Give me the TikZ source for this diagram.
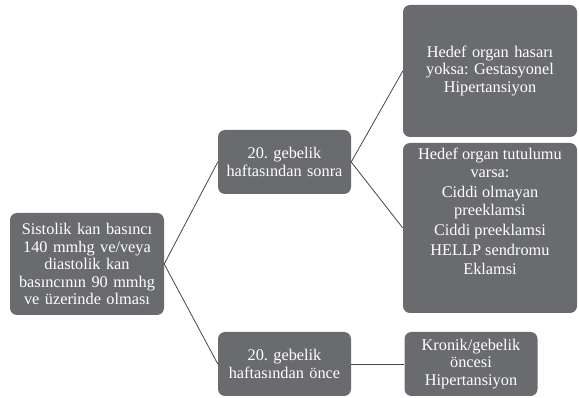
\documentclass[tikz,border=0pt]{standalone}
\usepackage{fontspec}
\setmainfont{Liberation Serif}
\frenchspacing

\definecolor{boxgray}{RGB}{106,107,111}
\definecolor{linegray}{RGB}{70,70,72}

\tikzset{
	box/.style = {rounded corners = 7pt, fill = boxgray, text = white, align = center, inner sep = 2pt,
		font = \fontsize{16.3}{17.5}\selectfont},
	link/.style = {draw = linegray, line width = 0.8pt}
}

\begin{document}
\begin{tikzpicture}[x = 1pt, y = -1pt]

	% Definitions
	
	\def\W{174}		% Width of right-hand boxes
	\def\w{133}		% Width of middle boxes
	
	\useasboundingbox (0, 0) rectangle (579, 398);
	
	% Draw boxes
	
	\node [box, text width = 150, minimum height = 102] (bp) at (87, 264)
		{Sistolik kan basıncı\\140 mmhg ve/veya\\diastolik kan\\basıncının 90 mmhg\\ve üzerinde olması};
	\node [box, text width = \w - 4, minimum height = 64] (after) at (284.5, 162)
		{20. gebelik\\haftasından sonra};
	\node [box, text width = \w - 4, minimum height = 64] (before) at (284.5, 364)
		{20. gebelik\\haftasından önce};
	\node [box, text width = \W - 4, minimum height = 132] (gest) at (490, 71)
		{Hedef organ hasarı\\yoksa: Gestasyonel\\Hipertansiyon};
	\node [box, text width = \W - 4, minimum height = 170,
		label = {[anchor = north, yshift = -2pt, text = white, align = center,
			font = \fontsize{16.3}{17.5}\selectfont]north : Hedef organ tutulumu\\varsa:\\[3pt]
			Ciddi olmayan\\preeklamsi\\[3pt]Ciddi preeklamsi\\[2pt]HELLP sendromu\\[2pt]Eklamsi}]
		(organ) at (490, 228) {};
	\node [box, text width = \w - 4, minimum height = 64] (chronic) at (471, 364)
		{Kronik/gebelik\\öncesi\\Hipertansiyon};
	
	% Draw connectors
	
	\foreach \a/\b in {bp/after, bp/before, after/gest, after/organ, before/chronic}
		\draw [link] (\a.east) -- (\b.west);
	
\end{tikzpicture}
\end{document}
